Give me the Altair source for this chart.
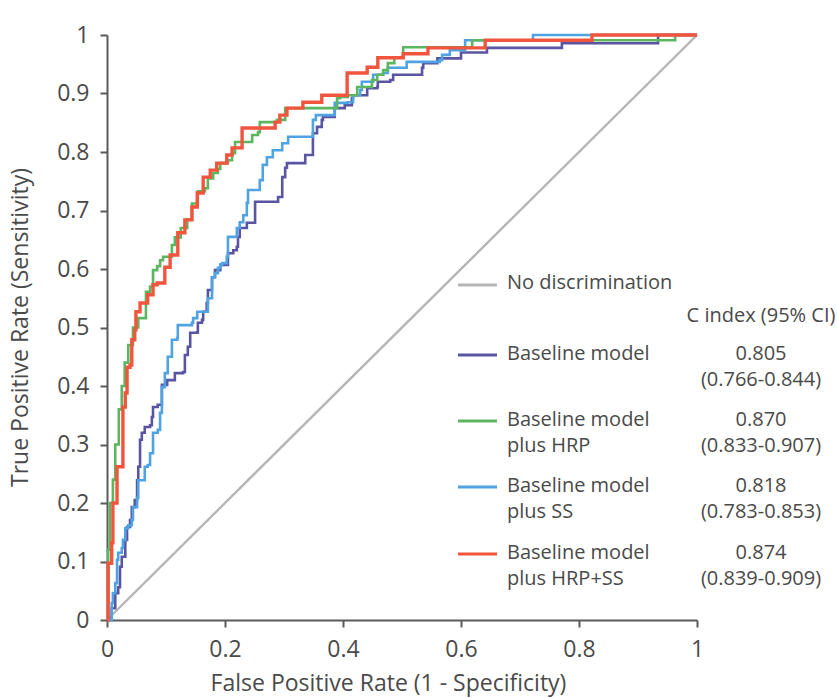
import altair as alt
import pandas as pd

# ---------------- data ----------------
models = ["Baseline model", "Baseline model plus HRP", "Baseline model plus SS", "Baseline model plus HRP+SS"]
c_index = ["0.805", "0.870", "0.818", "0.874"]
c_ci = ["(0.766-0.844)", "(0.833-0.907)", "(0.783-0.853)", "(0.839-0.909)"]

fpr_base = [0, 0.008, 0.014, 0.019, 0.022, 0.025, 0.031, 0.034, 0.039, 0.042,
            0.047, 0.051, 0.053, 0.056, 0.059, 0.064, 0.073, 0.076, 0.078, 0.086,
            0.093, 0.102, 0.112, 0.115, 0.129, 0.132, 0.137, 0.141, 0.153, 0.154,
            0.161, 0.163, 0.169, 0.171, 0.178, 0.183, 0.192, 0.205, 0.214, 0.220,
            0.222, 0.225, 0.237, 0.246, 0.251, 0.288, 0.290, 0.297, 0.302, 0.305,
            0.331, 0.336, 0.344, 0.349, 0.356, 0.364, 0.366, 0.383, 0.386, 0.403,
            0.415, 0.417, 0.441, 0.458, 0.459, 0.480, 0.485, 0.505, 0.534, 0.536,
            0.560, 0.600, 0.644, 0.768, 0.771, 0.934, 1.0]
tpr_base = [0, 0.020, 0.046, 0.056, 0.091, 0.108, 0.137, 0.159, 0.171, 0.193,
            0.205, 0.239, 0.262, 0.308, 0.320, 0.330, 0.333, 0.347, 0.364, 0.368,
            0.402, 0.410, 0.410, 0.422, 0.424, 0.453, 0.467, 0.491, 0.492, 0.508,
            0.513, 0.527, 0.542, 0.564, 0.586, 0.598, 0.607, 0.627, 0.632, 0.638,
            0.655, 0.670, 0.679, 0.679, 0.715, 0.715, 0.723, 0.757, 0.773, 0.781,
            0.781, 0.795, 0.795, 0.832, 0.843, 0.855, 0.860, 0.860, 0.875, 0.880,
            0.892, 0.897, 0.909, 0.911, 0.920, 0.923, 0.932, 0.932, 0.944, 0.952,
            0.960, 0.970, 0.978, 0.978, 0.986, 1.0, 1.0]

fpr_hrp = [0, 0.002, 0.005, 0.010, 0.014, 0.020, 0.025, 0.030, 0.036, 0.044,
           0.053, 0.066, 0.073, 0.078, 0.085, 0.090, 0.095, 0.103, 0.110, 0.115,
           0.125, 0.136, 0.144, 0.153, 0.154, 0.166, 0.171, 0.180, 0.188, 0.192,
           0.205, 0.212, 0.217, 0.225, 0.246, 0.256, 0.259, 0.285, 0.288, 0.302,
           0.378, 0.390, 0.395, 0.408, 0.424, 0.434, 0.449, 0.458, 0.468, 0.476,
           0.487, 0.502, 0.619, 0.963, 1.0]
tpr_hrp = [0, 0.120, 0.200, 0.240, 0.300, 0.360, 0.400, 0.440, 0.470, 0.500,
           0.516, 0.561, 0.570, 0.598, 0.605, 0.615, 0.621, 0.621, 0.641, 0.654,
           0.670, 0.685, 0.712, 0.715, 0.733, 0.738, 0.755, 0.764, 0.771, 0.781,
           0.786, 0.798, 0.817, 0.817, 0.829, 0.834, 0.851, 0.851, 0.855, 0.875,
           0.875, 0.892, 0.894, 0.897, 0.911, 0.911, 0.923, 0.932, 0.940, 0.952,
           0.961, 0.979, 0.991, 1.0, 1.0]

fpr_ss = [0, 0.008, 0.010, 0.014, 0.017, 0.019, 0.025, 0.027, 0.031, 0.036,
          0.042, 0.044, 0.051, 0.053, 0.061, 0.064, 0.069, 0.073, 0.078, 0.086,
          0.090, 0.093, 0.098, 0.103, 0.110, 0.119, 0.120, 0.144, 0.146, 0.153,
          0.166, 0.171, 0.178, 0.183, 0.188, 0.192, 0.195, 0.203, 0.205, 0.217,
          0.220, 0.225, 0.231, 0.237, 0.239, 0.254, 0.259, 0.264, 0.271, 0.281,
          0.297, 0.307, 0.344, 0.349, 0.354, 0.381, 0.386, 0.408, 0.417, 0.429,
          0.432, 0.446, 0.451, 0.468, 0.476, 0.505, 0.508, 0.564, 0.568, 0.581,
          0.607, 0.722, 1.0]
tpr_ss = [0, 0.029, 0.046, 0.063, 0.103, 0.115, 0.123, 0.137, 0.157, 0.162,
          0.171, 0.193, 0.209, 0.239, 0.239, 0.262, 0.265, 0.285, 0.320, 0.325,
          0.354, 0.398, 0.422, 0.450, 0.479, 0.482, 0.504, 0.508, 0.516, 0.527,
          0.527, 0.550, 0.586, 0.593, 0.602, 0.607, 0.610, 0.621, 0.655, 0.655,
          0.670, 0.680, 0.692, 0.713, 0.735, 0.735, 0.752, 0.778, 0.791, 0.803,
          0.815, 0.826, 0.826, 0.855, 0.863, 0.863, 0.884, 0.885, 0.897, 0.906,
          0.920, 0.920, 0.932, 0.935, 0.944, 0.944, 0.954, 0.957, 0.966, 0.974,
          0.991, 1.0, 1.0]

fpr_hrp_ss = [0, 0.002, 0.008, 0.010, 0.017, 0.025, 0.027, 0.031, 0.034, 0.039,
              0.042, 0.047, 0.049, 0.056, 0.064, 0.069, 0.078, 0.085, 0.098, 0.107,
              0.120, 0.132, 0.144, 0.153, 0.163, 0.175, 0.186, 0.203, 0.212, 0.220,
              0.229, 0.285, 0.293, 0.305, 0.332, 0.364, 0.403, 0.407, 0.441, 0.459,
              0.502, 0.544, 0.641, 0.822, 1.0]
tpr_hrp_ss = [0, 0.097, 0.132, 0.200, 0.262, 0.262, 0.364, 0.388, 0.432, 0.436,
              0.479, 0.496, 0.527, 0.542, 0.542, 0.556, 0.573, 0.576, 0.603, 0.624,
              0.662, 0.684, 0.706, 0.730, 0.757, 0.769, 0.781, 0.795, 0.807, 0.807,
              0.841, 0.851, 0.863, 0.875, 0.885, 0.897, 0.897, 0.935, 0.945, 0.961,
              0.968, 0.978, 0.991, 1.0, 1.0]

diag_x = [0, 1]
diag_y = [0, 1]

x_ticks = [0, 0.2, 0.4, 0.6, 0.8, 1]
y_ticks = [0, 0.1, 0.2, 0.3, 0.4, 0.5, 0.6, 0.7, 0.8, 0.9, 1]

# ---------------- style ----------------
FONT = "Open Sans"
TXT = "#4a4a4a"
AX = "#5a5a5a"
series = [
    (models[0], fpr_base, tpr_base, "#5a55a3", 2.6),
    (models[2], fpr_ss, tpr_ss, "#4fa3e3", 2.6),
    (models[1], fpr_hrp, tpr_hrp, "#5cb660", 2.6),
    (models[3], fpr_hrp_ss, tpr_hrp_ss, "#f2553d", 3.4),
]

xenc = alt.X("fpr:Q", scale=alt.Scale(domain=[0, 1], nice=False, zero=True),
             axis=alt.Axis(values=x_ticks, format="~g", labelFlush=False,
                           title="False Positive Rate (1 - Specificity)",
                           titleX=281, titleY=63, titleBaseline="middle",
                           labelPadding=11))
yenc = alt.Y("tpr:Q", scale=alt.Scale(domain=[0, 1], nice=False, zero=True),
             axis=alt.Axis(values=y_ticks, format="~g", labelFlush=False,
                           title="True Positive Rate (Sensitivity)",
                           titleX=-87, titleY=292, titleAngle=270,
                           titleBaseline="middle", titleAlign="center",
                           labelPadding=11))

diag = alt.Chart(pd.DataFrame({"fpr": diag_x, "tpr": diag_y})).mark_line(
    color="#b5b5b5", strokeWidth=2.4).encode(x=xenc, y=yenc)

layers = [diag]
for name, xs, ys, col, w in series:
    df = pd.DataFrame({"fpr": xs, "tpr": ys, "i": list(range(len(xs)))})
    layers.append(
        alt.Chart(df).mark_line(color=col, strokeWidth=w, interpolate="step-after",
                                strokeJoin="miter").encode(
            x=xenc, y=yenc, order="i:Q"))

one = pd.DataFrame({"a": [0]})


def txt(s, x, y, align="left"):
    return alt.Chart(one).mark_text(text=s, align=align, baseline="middle", font=FONT,
                                    fontSize=20, color=TXT).encode(
        x=alt.value(x), y=alt.value(y))


def swatch(col, y):
    return alt.Chart(one).mark_rule(color=col, strokeWidth=3.2).encode(
        x=alt.value(351), x2=alt.value(390), y=alt.value(y))


legend = [swatch("#b5b5b5", 250), txt("No discrimination", 400, 248),
          txt("C index (95% CI)", 654, 281, "center")]
leg_rows = [
    (models[0], ["Baseline model"], c_index[0], c_ci[0], "#5a55a3", 319),
    (models[1], ["Baseline model", "plus HRP"], c_index[1], c_ci[1], "#5cb660", 385),
    (models[2], ["Baseline model", "plus SS"], c_index[2], c_ci[2], "#4fa3e3", 451),
    (models[3], ["Baseline model", "plus HRP+SS"], c_index[3], c_ci[3], "#f2553d", 518),
]
for _, lines, ci, ci2, col, y in leg_rows:
    legend.append(swatch(col, y + 1))
    for k, ln in enumerate(lines):
        legend.append(txt(ln, 400, y + 26 * k))
    legend.append(txt(ci, 654, y, "center"))
    legend.append(txt(ci2, 654, y + 26, "center"))

chart = alt.layer(*layers, *legend).properties(
    width=590, height=585,
    autosize=alt.AutoSizeParams(type="none"),
    padding={"left": 107, "top": 35, "right": 140, "bottom": 78},
).configure_view(stroke=None).configure_axis(
    grid=False, labelFont=FONT, titleFont=FONT, labelFontSize=23, titleFontSize=23,
    labelColor=TXT, titleColor=TXT, titleFontWeight="normal",
    domainColor=AX, domainWidth=2, tickColor=AX, tickWidth=2, tickSize=7,
)

chart.save("out.html", embed_options={"renderer": "svg", "actions": False})
